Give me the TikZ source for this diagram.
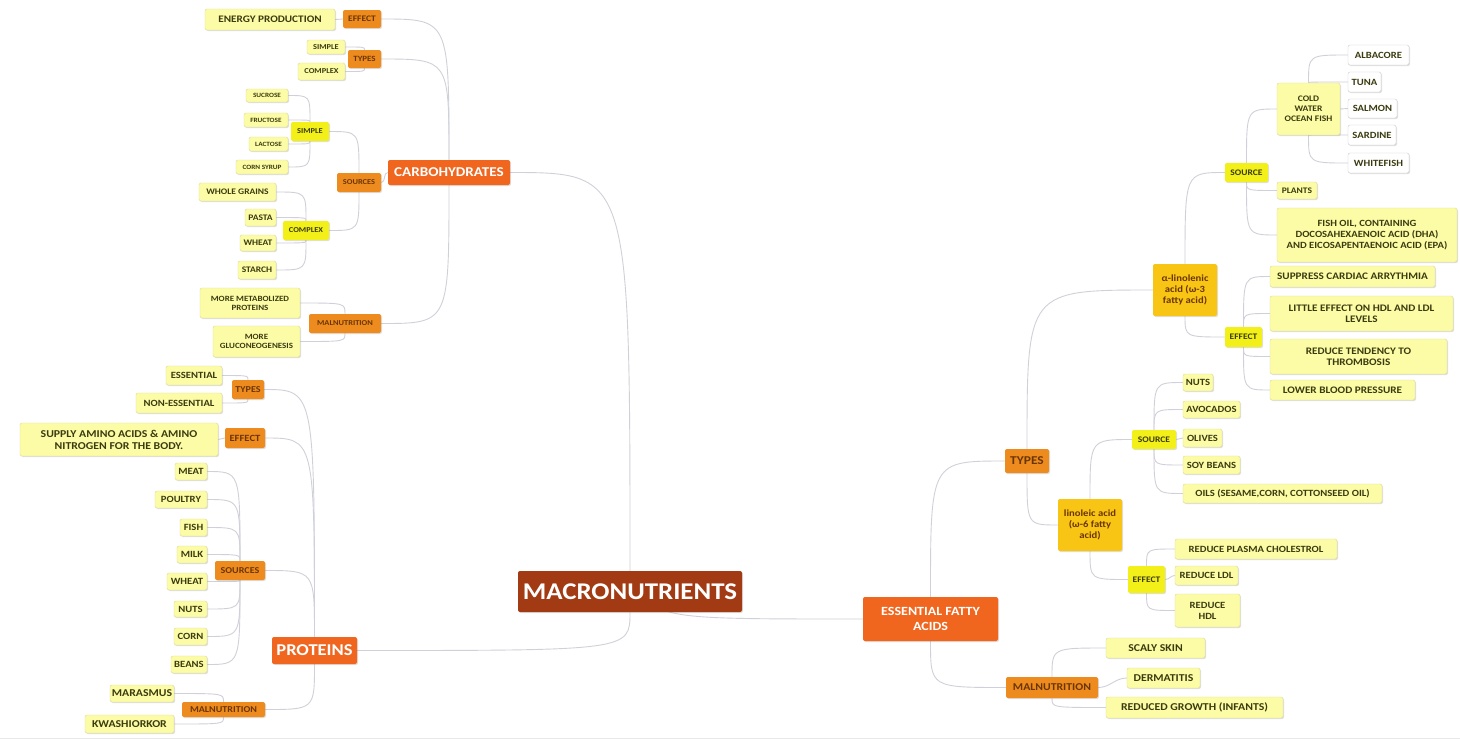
\documentclass[tikz,border=0pt]{standalone}
\usepackage{fontspec}
\setmainfont{Carlito}[FakeStretch=1.12]
\usetikzlibrary{shadows}
\definecolor{rootc}{HTML}{A23B13}
\definecolor{mainc}{HTML}{F0661F}
\definecolor{subc}{HTML}{EE8B1F}
\definecolor{goldc}{HTML}{F8C515}
\definecolor{yelc}{HTML}{F2F018}
\definecolor{leafc}{HTML}{FDFCA6}
\definecolor{leafd}{HTML}{DADA95}
\definecolor{linec}{HTML}{D0D0DA}
\definecolor{darkt}{HTML}{3B3B10}
\definecolor{subt}{HTML}{6A3505}
\pgfdeclarelayer{bg}\pgfsetlayers{bg,main}
\newcommand\mnode[8]{\pgfmathsetmacro\bls{#7*1.15}\node[#6, font=\bfseries\fontsize{#7}{\bls}\selectfont, minimum width={(#3-#2)*1pt}, minimum height={(#5-#4)*1pt}] (#1) at ({(#2+#3)/2},{(#4+#5)/2}) {#8};}
% left child above / below / level with its parent
\newcommand\cLU[2]{\draw[conn] (#1.east) .. controls (#2.north |- #1.east) and (#2.north |- #1.east) .. (#2.north);}
\newcommand\cLD[2]{\draw[conn] (#1.east) .. controls (#2.south |- #1.east) and (#2.south |- #1.east) .. (#2.south);}
\newcommand\cLS[2]{\draw[conn] (#1.east) to[out=0,in=180] (#2.west);}
% right child above / below / level with its parent
\newcommand\cRU[2]{\draw[conn] (#2.north) .. controls (#2.north |- #1.west) and (#2.north |- #1.west) .. (#1.west);}
\newcommand\cRD[2]{\draw[conn] (#2.south) .. controls (#2.south |- #1.west) and (#2.south |- #1.west) .. (#1.west);}
\newcommand\cRS[2]{\draw[conn] (#2.east) to[out=0,in=180] (#1.west);}
\begin{document}
\begin{tikzpicture}[x=1pt,y=-1pt,
  box/.style={rounded corners=2pt, inner sep=1pt, align=center, drop shadow={shadow xshift=1pt, shadow yshift=-1pt, opacity=0.25}},
  rootbox/.style={box, fill=rootc, text=white},
  mainbox/.style={box, fill=mainc, text=white},
  subbox/.style={box, fill=subc, text=subt},
  goldbox/.style={box, fill=goldc, text=subt},
  yelbox/.style={box, fill=yelc, text=darkt},
  leaf/.style={box, fill=leafc, draw=leafd, line width=0.4pt, text=darkt},
  wleaf/.style={box, fill=white, draw=gray!40, line width=0.4pt, text=darkt},
  conn/.style={draw=linec, line width=0.9pt}]
\useasboundingbox (0,0) rectangle (1460,740);
% root and main branches
\mnode{macro}{518}{742}{571}{612}{rootbox}{24}{MACRONUTRIENTS}
\mnode{carb}{388}{510}{160}{185}{mainbox}{13.5}{CARBOHYDRATES}
\mnode{prot}{272}{357}{637}{664}{mainbox}{16.5}{PROTEINS}
\mnode{efa}{863}{998}{597}{641}{mainbox}{12.5}{ESSENTIAL FATTY\\ACIDS}
% carbohydrates
\mnode{cEff}{343}{381}{10}{28}{subbox}{8.5}{EFFECT}
\mnode{cEnergy}{205}{335}{9}{30}{leaf}{10}{ENERGY PRODUCTION}
\mnode{cTypes}{348}{381}{50}{68}{subbox}{8}{TYPES}
\mnode{cTSimple}{307}{345}{40}{54}{leaf}{7.5}{SIMPLE}
\mnode{cTComplex}{298}{345}{63}{80}{leaf}{7.5}{COMPLEX}
\mnode{cSrc}{337}{381}{173}{192}{subbox}{7.5}{SOURCES}
\mnode{cSSimple}{291}{329}{122}{141}{yelbox}{7.5}{SIMPLE}
\mnode{cSComplex}{283}{329}{221}{240}{yelbox}{7.5}{COMPLEX}
\mnode{cSucrose}{246}{288}{89}{102}{leaf}{6.5}{SUCROSE}
\mnode{cFructose}{244}{288}{113}{127}{leaf}{6.5}{FRUCTOSE}
\mnode{cLactose}{249}{288}{137}{151}{leaf}{6.5}{LACTOSE}
\mnode{cCorn}{236}{288}{160}{174}{leaf}{6.5}{CORN SYRUP}
\mnode{cWhole}{199}{276}{183}{201}{leaf}{8.5}{WHOLE GRAINS}
\mnode{cPasta}{245}{276}{209}{226}{leaf}{8.5}{PASTA}
\mnode{cWheat}{240}{276}{235}{251}{leaf}{8.5}{WHEAT}
\mnode{cStarch}{238}{276}{261}{279}{leaf}{8.5}{STARCH}
\mnode{cMal}{309}{381}{314}{333}{subbox}{7.5}{MALNUTRITION}
\mnode{cMorep}{200}{300}{288}{318}{leaf}{8}{MORE METABOLIZED\\PROTEINS}
\mnode{cMoreg}{213}{300}{326}{357}{leaf}{8}{MORE\\GLUCONEOGENESIS}
% proteins
\mnode{pTypes}{232}{264}{380}{399}{subbox}{9}{TYPES}
\mnode{pEss}{166}{222}{366}{385}{leaf}{9.5}{ESSENTIAL}
\mnode{pNon}{136}{222}{393}{413}{leaf}{9.5}{NON-ESSENTIAL}
\mnode{pEff}{225}{265}{428}{448}{subbox}{9.5}{EFFECT}
\mnode{pSupply}{20}{218}{423}{456}{leaf}{10.5}{SUPPLY AMINO ACIDS \& AMINO\\NITROGEN FOR THE BODY.}
\mnode{pSrc}{215}{265}{561}{580}{subbox}{9}{SOURCES}
\mnode{pMeat}{175}{207}{463}{480}{leaf}{9.5}{MEAT}
\mnode{pPoultry}{155}{207}{491}{508}{leaf}{9.5}{POULTRY}
\mnode{pFish}{180}{207}{519}{536}{leaf}{9.5}{FISH}
\mnode{pMilk}{177}{207}{546}{563}{leaf}{9.5}{MILK}
\mnode{pWheat}{167}{207}{573}{590}{leaf}{9.5}{WHEAT}
\mnode{pNuts}{174}{207}{601}{617}{leaf}{9.5}{NUTS}
\mnode{pCorn}{174}{207}{628}{645}{leaf}{9.5}{CORN}
\mnode{pBeans}{171}{207}{656}{673}{leaf}{9.5}{BEANS}
\mnode{pMal}{182}{265}{702}{717}{subbox}{9}{MALNUTRITION}
\mnode{pMaras}{110}{174}{685}{702}{leaf}{10.5}{MARASMUS}
\mnode{pKwash}{85}{174}{715}{733}{leaf}{10.5}{KWASHIORKOR}
% essential fatty acids
\mnode{eTypes}{1005}{1049}{449}{473}{subbox}{12}{TYPES}
\mnode{eMal}{1006}{1098}{677}{698}{subbox}{10.5}{MALNUTRITION}
\mnode{eAlpha}{1153}{1217}{264}{316}{goldbox}{9.5}{α-linolenic\\acid (ω-3\\fatty acid)}
\mnode{eLin}{1058}{1122}{499}{551}{goldbox}{9.5}{linoleic acid\\(ω-6 fatty\\acid)}
\mnode{aSrc}{1225}{1268}{163}{182}{yelbox}{8.5}{SOURCE}
\mnode{aEff}{1225}{1262}{327}{347}{yelbox}{8.5}{EFFECT}
\mnode{aCold}{1277}{1340}{83}{135}{leaf}{8.5}{COLD\\WATER\\OCEAN FISH}
\mnode{aPlants}{1277}{1317}{182}{199}{leaf}{8.5}{PLANTS}
\mnode{aFishOil}{1277}{1457}{208}{262}{leaf}{9.5}{FISH OIL, CONTAINING\\DOCOSAHEXAENOIC ACID (DHA)\\AND EICOSAPENTAENOIC ACID (EPA)}
\mnode{aAlb}{1348}{1409}{45}{65}{wleaf}{9.5}{ALBACORE}
\mnode{aTuna}{1348}{1381}{72}{92}{wleaf}{9.5}{TUNA}
\mnode{aSalmon}{1348}{1397}{99}{118}{wleaf}{9.5}{SALMON}
\mnode{aSardine}{1348}{1396}{125}{145}{wleaf}{9.5}{SARDINE}
\mnode{aWhite}{1348}{1409}{153}{173}{wleaf}{9.5}{WHITEFISH}
\mnode{aSupp}{1270}{1435}{266}{287}{leaf}{10}{SUPPRESS CARDIAC ARRYTHMIA}
\mnode{aLittle}{1270}{1453}{296}{331}{leaf}{10}{LITTLE EFFECT ON HDL AND LDL\\LEVELS}
\mnode{aReduce}{1270}{1447}{339}{374}{leaf}{10}{REDUCE TENDENCY TO\\THROMBOSIS}
\mnode{aLower}{1270}{1415}{380}{400}{leaf}{10}{LOWER BLOOD PRESSURE}
\mnode{lSrc}{1132}{1176}{430}{449}{yelbox}{8.5}{SOURCE}
\mnode{lEff}{1128}{1165}{566}{593}{yelbox}{8.5}{EFFECT}
\mnode{lNuts}{1183}{1213}{374}{391}{leaf}{9.5}{NUTS}
\mnode{lAvo}{1183}{1240}{401}{418}{leaf}{9.5}{AVOCADOS}
\mnode{lOlives}{1183}{1222}{429}{447}{leaf}{9.5}{OLIVES}
\mnode{lSoy}{1183}{1240}{456}{474}{leaf}{9.5}{SOY BEANS}
\mnode{lOils}{1183}{1382}{484}{503}{leaf}{9.5}{OILS (SESAME,CORN, COTTONSEED OIL)}
\mnode{lPlasma}{1175}{1337}{539}{559}{leaf}{9.5}{REDUCE PLASMA CHOLESTROL}
\mnode{lLdl}{1175}{1238}{566}{585}{leaf}{9.5}{REDUCE LDL}
\mnode{lHdl}{1175}{1240}{594}{627}{leaf}{9.5}{REDUCE\\HDL}
\mnode{mScaly}{1106}{1205}{638}{658}{leaf}{10.5}{SCALY SKIN}
\mnode{mDerm}{1127}{1200}{668}{688}{leaf}{10.5}{DERMATITIS}
\mnode{mGrowth}{1106}{1283}{697}{718}{leaf}{10.5}{REDUCED GROWTH (INFANTS)}
\coordinate (bl) at (0,738.5);
\coordinate (br) at (1460,738.5);
\begin{pgfonlayer}{bg}
\fill[white] (0,0) rectangle (1460,740);
\draw[gray!18, line width=0.8pt] (bl) -- (br);
% root links (single-control curves)
\draw[conn] (carb.east) .. controls (macro.north |- carb.east) .. (macro.north);
\draw[conn] (prot.east) .. controls (macro.south |- prot.east) .. (macro.south);
\draw[conn] (macro.center) .. controls ([xshift=40pt]macro.center |- efa.west) .. (efa.west);
% carbohydrates links
\cLU{cEff}{carb} \cLU{cTypes}{carb} \cLS{cSrc}{carb} \cLD{cMal}{carb}
\cLS{cEnergy}{cEff}
\cLU{cTSimple}{cTypes} \cLD{cTComplex}{cTypes}
\cLU{cSSimple}{cSrc} \cLD{cSComplex}{cSrc}
\cLU{cSucrose}{cSSimple} \cLU{cFructose}{cSSimple} \cLD{cLactose}{cSSimple} \cLD{cCorn}{cSSimple}
\cLU{cWhole}{cSComplex} \cLU{cPasta}{cSComplex} \cLD{cWheat}{cSComplex} \cLD{cStarch}{cSComplex}
\cLU{cMorep}{cMal} \cLD{cMoreg}{cMal}
% proteins links
\cLU{pTypes}{prot} \cLU{pEff}{prot} \cLU{pSrc}{prot} \cLD{pMal}{prot}
\cLU{pEss}{pTypes} \cLD{pNon}{pTypes}
\cLS{pSupply}{pEff}
\cLU{pMeat}{pSrc} \cLU{pPoultry}{pSrc} \cLU{pFish}{pSrc} \cLU{pMilk}{pSrc}
\cLD{pWheat}{pSrc} \cLD{pNuts}{pSrc} \cLD{pCorn}{pSrc} \cLD{pBeans}{pSrc}
\cLU{pMaras}{pMal} \cLD{pKwash}{pMal}
% essential fatty acid links
\cRU{eTypes}{efa} \cRD{eMal}{efa}
\cRU{eAlpha}{eTypes} \cRD{eLin}{eTypes}
\cRU{aSrc}{eAlpha} \cRD{aEff}{eAlpha}
\cRU{aCold}{aSrc} \cRD{aPlants}{aSrc} \cRD{aFishOil}{aSrc}
\cRU{aAlb}{aCold} \cRU{aTuna}{aCold} \cRS{aSalmon}{aCold} \cRD{aSardine}{aCold} \cRD{aWhite}{aCold}
\cRU{aSupp}{aEff} \cRU{aLittle}{aEff} \cRD{aReduce}{aEff} \cRD{aLower}{aEff}
\cRU{lSrc}{eLin} \cRD{lEff}{eLin}
\cRU{lNuts}{lSrc} \cRU{lAvo}{lSrc} \cRS{lOlives}{lSrc} \cRD{lSoy}{lSrc} \cRD{lOils}{lSrc}
\cRU{lPlasma}{lEff} \cRS{lLdl}{lEff} \cRD{lHdl}{lEff}
\cRU{mScaly}{eMal} \cRS{mDerm}{eMal} \cRD{mGrowth}{eMal}
\end{pgfonlayer}
\end{tikzpicture}
\end{document}
